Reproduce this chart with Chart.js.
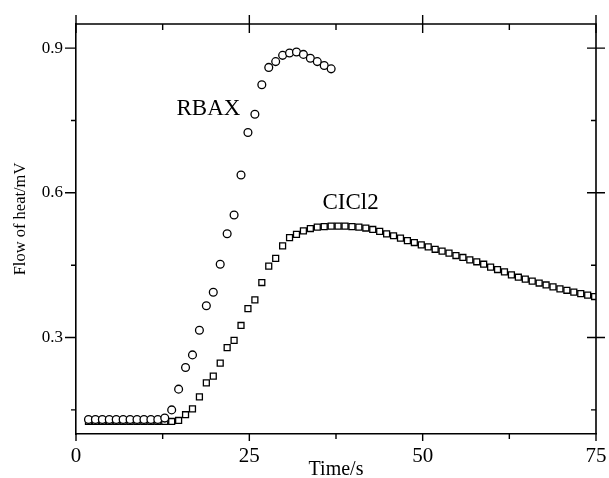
<!DOCTYPE html>
<html>
<head>
<meta charset="utf-8">
<script src="https://cdn.jsdelivr.net/npm/chart.js@4.4.0/dist/chart.umd.min.js"></script>
<style>
  html, body { margin: 0; padding: 0; background: #fff; }
  #wrap { width: 609px; height: 478px; }
</style>
</head>
<body>
<div id="wrap"><canvas id="myChart" width="609" height="478"></canvas></div>
<script>
// time axis (s)
var time = [1.8, 2.8, 3.8, 4.8, 5.8, 6.8, 7.8, 8.8, 9.8, 10.8, 11.8, 12.8, 13.8, 14.8, 15.8,
  16.8, 17.8, 18.8, 19.8, 20.8, 21.8, 22.8, 23.8, 24.8, 25.8, 26.8, 27.8, 28.8, 29.8, 30.8,
  31.8, 32.8, 33.8, 34.8, 35.8, 36.8, 37.8, 38.8, 39.8, 40.8, 41.8, 42.8, 43.8, 44.8, 45.8,
  46.8, 47.8, 48.8, 49.8, 50.8, 51.8, 52.8, 53.8, 54.8, 55.8, 56.8, 57.8, 58.8, 59.8, 60.8,
  61.8, 62.8, 63.8, 64.8, 65.8, 66.8, 67.8, 68.8, 69.8, 70.8, 71.8, 72.8, 73.8, 74.8];

// flow of heat (mV)
var rbax = [0.130, 0.130, 0.130, 0.130, 0.130, 0.130, 0.130, 0.130, 0.130, 0.130, 0.130,
  0.133, 0.150, 0.193, 0.238, 0.264, 0.315, 0.366, 0.394, 0.452, 0.515, 0.554, 0.637,
  0.725, 0.763, 0.824, 0.860, 0.872, 0.885, 0.890, 0.892, 0.887, 0.879, 0.872, 0.864, 0.857];

var cicl2 = [0.126, 0.126, 0.126, 0.126, 0.126, 0.126, 0.126, 0.126, 0.126, 0.126, 0.126,
  0.126, 0.126, 0.128, 0.140, 0.152, 0.177, 0.206, 0.220, 0.247, 0.279, 0.294, 0.325,
  0.360, 0.378, 0.414, 0.448, 0.464, 0.490, 0.507, 0.514, 0.521, 0.526, 0.529, 0.530,
  0.531, 0.531, 0.531, 0.530, 0.529, 0.527, 0.524, 0.520, 0.515, 0.511, 0.506, 0.501,
  0.497, 0.492, 0.488, 0.483, 0.479, 0.475, 0.470, 0.466, 0.461, 0.457, 0.452, 0.446,
  0.441, 0.436, 0.430, 0.425, 0.421, 0.417, 0.413, 0.409, 0.405, 0.401, 0.398, 0.394,
  0.391, 0.388, 0.385];

var xTicks = [0, 12.5, 25, 37.5, 50, 62.5, 75];
var xLabels = ['0', '', '25', '', '50', '', '75'];
var yTicks = [0.15, 0.3, 0.45, 0.6, 0.75, 0.9];
var yLabels = ['', '0.3', '', '0.6', '', '0.9'];

var seriesLabels = [
  { text: 'RBAX', x: 19.1, y: 0.773 },
  { text: 'CICl2', x: 39.6, y: 0.580 }
];

var serif = '"Liberation Serif", "Times New Roman", serif';

function toPoints(xs, ys) {
  var pts = [];
  for (var i = 0; i < ys.length; i++) {
    pts.push({ x: xs[i], y: ys[i] });
  }
  return pts;
}

// frame, tick marks and free text
var framePlugin = {
  id: 'frame',
  afterDraw: function(chart) {
    var ctx = chart.ctx;
    var a = chart.chartArea;
    var xs = chart.scales.x;
    var ys = chart.scales.y;
    ctx.save();
    ctx.strokeStyle = '#000';
    ctx.lineWidth = 1.6;
    ctx.beginPath();
    ctx.moveTo(a.left, a.top);
    ctx.lineTo(a.right, a.top);
    ctx.lineTo(a.right, a.bottom);
    ctx.stroke();

    ctx.lineWidth = 1.4;
    ctx.beginPath();
    for (var i = 0; i < xTicks.length; i++) {
      var px = xs.getPixelForValue(xTicks[i]);
      var major = xLabels[i] !== '';
      // bottom, outward
      ctx.moveTo(px, a.bottom);
      ctx.lineTo(px, a.bottom + (major ? 7 : 5));
      // top
      if (major) {
        ctx.moveTo(px, a.top - 9);
        ctx.lineTo(px, a.top + 9);
      } else {
        ctx.moveTo(px, a.top);
        ctx.lineTo(px, a.top + 6);
      }
    }
    for (var j = 0; j < yTicks.length; j++) {
      var py = ys.getPixelForValue(yTicks[j]);
      var maj = yLabels[j] !== '';
      // left, outward
      ctx.moveTo(a.left - (maj ? 11 : 5), py);
      ctx.lineTo(a.left, py);
      // right
      if (maj) {
        ctx.moveTo(a.right - 9, py);
        ctx.lineTo(a.right + 9, py);
      } else {
        ctx.moveTo(a.right - 5, py);
        ctx.lineTo(a.right, py);
      }
    }
    ctx.stroke();

    ctx.fillStyle = '#000';
    ctx.textAlign = 'center';
    ctx.textBaseline = 'middle';
    ctx.font = '23px ' + serif;
    for (var k = 0; k < seriesLabels.length; k++) {
      var l = seriesLabels[k];
      ctx.fillText(l.text, xs.getPixelForValue(l.x), ys.getPixelForValue(l.y));
    }

    ctx.font = '20px ' + serif;
    ctx.fillText('Time/s', (a.left + a.right) / 2, 470);

    ctx.translate(21, 219);
    ctx.rotate(-Math.PI / 2);
    ctx.font = '16.5px ' + serif;
    ctx.fillText('Flow of heat/mV', 0, 0);
    ctx.restore();
  }
};

var ctx = document.getElementById('myChart').getContext('2d');

var myChart = new Chart(ctx, {
  type: 'scatter',
  data: {
    datasets: [
      {
        label: 'RBAX',
        data: toPoints(time, rbax),
        pointStyle: 'circle',
        pointRadius: 3.9,
        borderWidth: 1.3,
        borderColor: '#000',
        backgroundColor: '#fff'
      },
      {
        label: 'CICl2',
        data: toPoints(time, cicl2),
        pointStyle: 'rect',
        pointRadius: 4.2,
        borderWidth: 1.3,
        borderColor: '#000',
        backgroundColor: '#fff'
      }
    ]
  },
  options: {
    responsive: false,
    animation: false,
    layout: { padding: { left: 0, right: 13, top: 24, bottom: 0 } },
    plugins: {
      legend: { display: false },
      tooltip: { enabled: false }
    },
    scales: {
      x: {
        type: 'linear',
        min: 0,
        max: 75,
        afterBuildTicks: function(s) {
          s.ticks = xTicks.map(function(v) { return { value: v }; });
        },
        afterFit: function(s) {
          s.height = 44;
          s.paddingLeft = 0;
          s.paddingRight = 0;
        },
        ticks: {
          padding: 10,
          color: '#000',
          font: { family: serif, size: 21 },
          maxRotation: 0,
          autoSkip: false,
          callback: function(v, i) { return xLabels[i]; }
        },
        grid: { display: true, drawOnChartArea: false, drawTicks: false },
        border: { display: true, color: '#000', width: 1.6 }
      },
      y: {
        type: 'linear',
        min: 0.1,
        max: 0.95,
        afterBuildTicks: function(s) {
          s.ticks = yTicks.map(function(v) { return { value: v }; });
        },
        afterFit: function(s) {
          s.width = 76;
          s.paddingTop = 0;
          s.paddingBottom = 0;
        },
        ticks: {
          padding: 13,
          color: '#000',
          font: { family: serif, size: 17 },
          autoSkip: false,
          callback: function(v, i) { return yLabels[i]; }
        },
        grid: { display: true, drawOnChartArea: false, drawTicks: false },
        border: { display: true, color: '#000', width: 1.6 }
      }
    }
  },
  plugins: [framePlugin]
});
</script>
</body>
</html>
